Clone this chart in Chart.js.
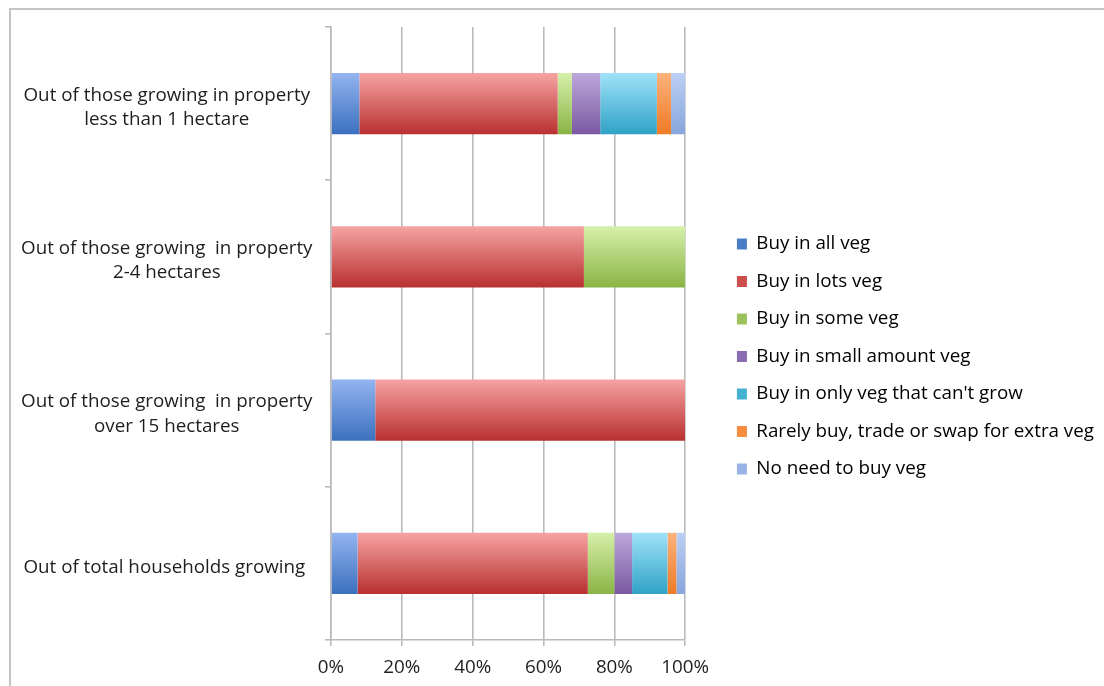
<!DOCTYPE html>
<html>
<head>
<meta charset="utf-8">
<script src="https://cdn.jsdelivr.net/npm/chart.js@4.4.1/dist/chart.umd.min.js"></script>
<style>
  html, body { margin: 0; padding: 0; background: #fff; }
  #wrap { position: relative; width: 1104px; height: 686px; overflow: hidden; }
  #frame { position: absolute; left: 9px; top: 8px; width: 1200px; height: 800px; border: 2px solid #c4c4c4; }
  #veg { position: absolute; left: 0; top: 0; }
</style>
</head>
<body>
<div id="wrap">
  <div id="frame"></div>
  <canvas id="veg" width="1104" height="686"></canvas>
</div>
<script>
// property groups, top to bottom
const groups = [
  ['Out of those growing in property', 'less than 1 hectare'],
  ['Out of those growing  in property', '2-4 hectares'],
  ['Out of those growing  in property', 'over 15 hectares'],
  'Out of total households growing '
];

// share of households (%) per answer
const allVeg       = [8, 0, 12.5, 7.5];
const lotsVeg      = [56, 71.4, 87.5, 65];
const someVeg      = [4, 28.6, 0, 7.5];
const smallVeg     = [8, 0, 0, 5];
const cantGrowVeg  = [16, 0, 0, 10];
const rarelyBuyVeg = [4, 0, 0, 2.5];
const noNeedVeg    = [4, 0, 0, 2.5];

const xTicks = [0, 20, 40, 60, 80, 100];

const FONT = "'Open Sans', sans-serif";
const FONT_SIZE = 18.8;
const TEXT = '#1e1e1e';
const GRID = '#bababa';

// vertical gradient per bar: light on top, darker at the bottom
function barFill(top, bottom) {
  return (c) => {
    const chart = c.chart;
    const y = chart.scales.y;
    if (!chart.chartArea || !y || c.type !== 'data') return bottom;
    const mid = y.getPixelForValue(c.dataIndex);
    const half = (y.height / groups.length) * 0.4 / 2;
    const g = chart.ctx.createLinearGradient(0, mid - half, 0, mid + half);
    g.addColorStop(0, top);
    g.addColorStop(1, bottom);
    return g;
  };
}

const series = [
  { label: 'Buy in all veg', data: allVeg, top: '#93b4f0', bottom: '#3b70bf', key: '#4a7cc6' },
  { label: 'Buy in lots veg', data: lotsVeg, top: '#f6a3a3', bottom: '#b93030', key: '#cc4d4d' },
  { label: 'Buy in some veg', data: someVeg, top: '#d6f0aa', bottom: '#8ab445', key: '#9cc25c' },
  { label: 'Buy in small amount veg', data: smallVeg, top: '#bca8db', bottom: '#7a58a1', key: '#8a6cb0' },
  { label: "Buy in only veg that can't grow", data: cantGrowVeg, top: '#a0e2f9', bottom: '#2fa2c6', key: '#45b2d2' },
  { label: 'Rarely buy, trade or swap for extra veg', data: rarelyBuyVeg, top: '#fbb27c', bottom: '#ef7b26', key: '#f68d3e' },
  { label: 'No need to buy veg', data: noNeedVeg, top: '#bcd0f5', bottom: '#88a6dd', key: '#98b4e6' }
];

new Chart(document.getElementById('veg'), {
  type: 'bar',
  data: {
    labels: groups,
    datasets: series.map(s => ({
      label: s.label,
      data: s.data,
      backgroundColor: barFill(s.top, s.bottom),
      borderWidth: 0,
      barPercentage: 0.4,
      categoryPercentage: 1
    }))
  },
  options: {
    indexAxis: 'y',
    responsive: false,
    animation: false,
    layout: { padding: { top: 27, left: 0, right: 0, bottom: 0 } },
    plugins: {
      tooltip: { enabled: false },
      legend: {
        position: 'right',
        align: 'center',
        maxWidth: 500,
        labels: {
          boxWidth: 10,
          boxHeight: 11,
          padding: 18.7,
          color: TEXT,
          font: { family: FONT, size: FONT_SIZE },
          generateLabels: (chart) => chart.data.datasets.map((d, i) => ({
            text: d.label,
            fillStyle: series[i].key,
            strokeStyle: series[i].key,
            lineWidth: 0,
            hidden: false,
            datasetIndex: i
          }))
        }
      }
    },
    scales: {
      x: {
        type: 'linear',
        stacked: true,
        min: 0,
        max: 100,
        afterBuildTicks: (s) => { s.ticks = xTicks.map(v => ({ value: v })); },
        ticks: {
          callback: v => v + '%',
          color: TEXT,
          font: { family: FONT, size: FONT_SIZE },
          padding: 10
        },
        grid: { color: GRID, lineWidth: 1.6, tickLength: 6 },
        border: { color: GRID, width: 1.6 },
        afterFit: (s) => { s.height = 46; }
      },
      y: {
        stacked: true,
        grid: { offset: true, drawOnChartArea: false, color: GRID, lineWidth: 1.6, tickLength: 6 },
        border: { color: GRID, width: 1.6 },
        ticks: {
          crossAlign: 'center',
          padding: 12.5,
          labelOffset: 4,
          color: TEXT,
          font: { family: FONT, size: FONT_SIZE, lineHeight: 1.28 }
        },
        afterFit: (s) => { s.width = 331; }
      },
      // empty strip between the plot and the legend
      gap: {
        type: 'linear',
        position: 'right',
        display: true,
        ticks: { display: false },
        grid: { display: false, drawTicks: false },
        border: { display: false },
        afterFit: (s) => { s.width = 33; }
      }
    }
  }
});
</script>
</body>
</html>
